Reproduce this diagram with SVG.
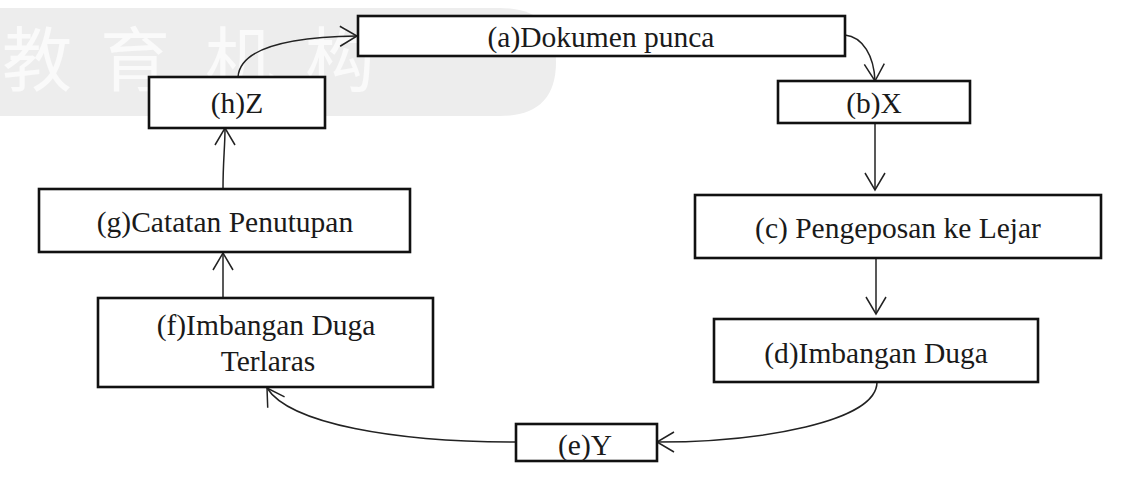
<svg xmlns="http://www.w3.org/2000/svg" width="1123" height="484" viewBox="0 0 1123 484">
  <style>
    .box { fill: #ffffff; stroke: #111111; stroke-width: 2.6; }
    .lbl { font-family: "Liberation Serif", "Times New Roman", serif; font-size: 29.5px; fill: #1a1a1a; text-anchor: middle; }
    .conn { fill: none; stroke: #222222; stroke-width: 1.5; }
    .wm { font-family: "Noto Sans CJK SC", "Noto Sans CJK JP", sans-serif; font-size: 70px; fill: #fafafa; }
  </style>
  <defs>
    <marker id="arr" markerUnits="userSpaceOnUse" markerWidth="24" markerHeight="24" viewBox="-20 -12 24 24" refX="0" refY="0" orient="auto">
      <path d="M -17 -10 L 0 0 L -17 10" fill="none" stroke="#222222" stroke-width="1.5"/>
    </marker>
  </defs>
  <rect width="1123" height="484" fill="#ffffff"/>
  <g id="watermark">
    <path d="M 0 8 L 500 8 Q 556 8 556 62 Q 556 116 500 116 L 0 116 Z" fill="#ededed"/>
    <text class="wm" x="2" y="86">教</text>
    <text class="wm" x="100" y="86">育</text>
    <text class="wm" x="205" y="86">机</text>
    <text class="wm" x="305" y="86">构</text>
  </g>
  <g id="connectors">
    <path class="conn" d="M 238 77 C 240 48, 290 37, 357 36" marker-end="url(#arr)"/>
    <path class="conn" d="M 845 35 C 863 37, 874 56, 875 81" marker-end="url(#arr)"/>
    <path class="conn" d="M 875 123 L 875 190" marker-end="url(#arr)"/>
    <path class="conn" d="M 876 258 L 876 314" marker-end="url(#arr)"/>
    <path class="conn" d="M 877 382 C 877 422, 760 442, 657 442" marker-end="url(#arr)"/>
    <path class="conn" d="M 516 442 C 395 442, 290 424, 267 388" marker-end="url(#arr)"/>
    <path class="conn" d="M 223 298 L 223 253" marker-end="url(#arr)"/>
    <path class="conn" d="M 223 189 C 223 160, 225 148, 225 128" marker-end="url(#arr)"/>
  </g>
  <g id="node-a">
    <rect class="box" x="358" y="16" width="487" height="40"/>
    <text class="lbl" x="601" y="47">(a)Dokumen punca</text>
  </g>
  <g id="node-b">
    <rect class="box" x="778" y="81" width="192" height="42"/>
    <text class="lbl" x="874" y="113">(b)X</text>
  </g>
  <g id="node-c">
    <rect class="box" x="695" y="195" width="406" height="63"/>
    <text class="lbl" x="898" y="238">(c) Pengeposan ke Lejar</text>
  </g>
  <g id="node-d">
    <rect class="box" x="714" y="319" width="324" height="63"/>
    <text class="lbl" x="876" y="363">(d)Imbangan Duga</text>
  </g>
  <g id="node-e">
    <rect class="box" x="516" y="424" width="141" height="37"/>
    <text class="lbl" x="585" y="455">(e)Y</text>
  </g>
  <g id="node-f">
    <rect class="box" x="98" y="298" width="335" height="89"/>
    <text class="lbl" x="266" y="335">(f)Imbangan Duga</text>
    <text class="lbl" x="268" y="371">Terlaras</text>
  </g>
  <g id="node-g">
    <rect class="box" x="39" y="189" width="371" height="63"/>
    <text class="lbl" x="225" y="232">(g)Catatan Penutupan</text>
  </g>
  <g id="node-h">
    <rect class="box" x="149" y="77" width="176" height="51"/>
    <text class="lbl" x="237" y="113">(h)Z</text>
  </g>
</svg>
